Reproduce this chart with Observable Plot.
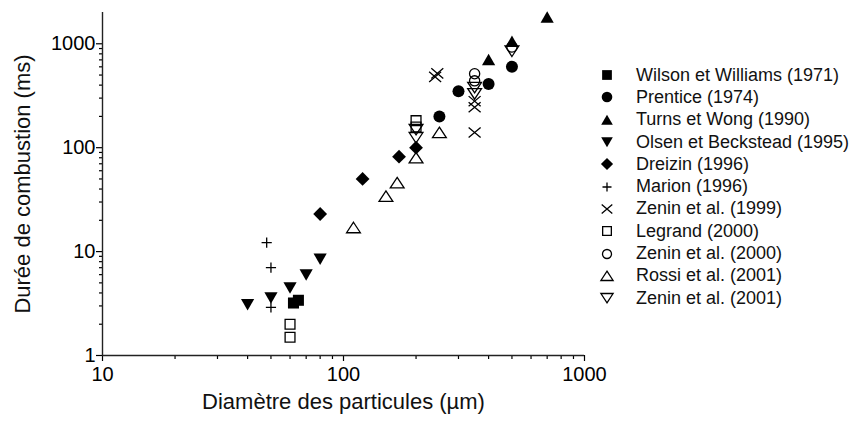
<!DOCTYPE html>
<html><head><meta charset="utf-8">
<script src="https://cdn.jsdelivr.net/npm/d3@7"></script>
<script src="https://cdn.jsdelivr.net/npm/@observablehq/plot@0.6"></script>
<style>
body{margin:0;background:#fff;font-family:"Liberation Sans",Arial,sans-serif;}
#wrap{position:relative;width:861px;height:421px;}
#legend{position:absolute;left:596px;top:64px;}
.row{height:22.3px;display:flex;align-items:center;font-size:18px;color:#111;white-space:nowrap;}
.row svg{width:22px;height:22px;margin-right:18px;flex:none;}
</style></head><body><div id="wrap"></div>
<script>
// ---- data ----
const seriesNames = [
  "Wilson et Williams (1971)", "Prentice (1974)", "Turns et Wong (1990)",
  "Olsen et Beckstead (1995)", "Dreizin (1996)", "Marion (1996)",
  "Zenin et al. (1999)", "Legrand (2000)", "Zenin et al. (2000)",
  "Rossi et al. (2001)", "Zenin et al. (2001)"
];
const wilson    = [[62, 3.2], [65, 3.4]];
const prentice  = [[250, 200], [300, 350], [400, 410], [500, 600]];
const turns     = [[400, 700], [500, 1050], [700, 1800]];
const olsen     = [[40, 3.1], [50, 3.6], [60, 4.5], [70, 6.0], [80, 8.5]];
const dreizin   = [[80, 23], [120, 50], [170, 82], [200, 100]];
const marion    = [[48, 12.2], [50, 7.0], [50, 2.9]];
const zenin1999 = [[240, 480], [245, 520], [350, 280], [350, 245], [350, 140]];
const legrand   = [[60, 2.0], [60, 1.5], [200, 182], [200, 158]];
const zenin2000 = [[350, 515], [350, 440], [500, 930]];
const rossi     = [[110, 17], [150, 34], [167, 46], [200, 80], [250, 140]];
const zenin2001 = [[200, 150], [200, 125], [350, 380], [350, 330], [500, 850]];

const xMajorTicks = [10, 100, 1000];
const xMinorTicks = [20, 30, 40, 50, 60, 70, 80, 90, 200, 300, 400, 500, 600, 700, 800, 900];
const yMajorTicks = [1, 10, 100, 1000];
const yMinorTicks = [2, 3, 4, 5, 6, 7, 8, 9, 20, 30, 40, 50, 60, 70, 80, 90, 200, 300, 400, 500, 600, 700, 800, 900];

const xLabel = "Diamètre des particules (µm)";
const yLabel = "Durée de combustion (ms)";

// ---- symbols ----
const sym = f => ({draw(c, size) { const r = Math.sqrt(size / Math.PI); f(c, r); }});
const SQUARE = sym((c, r) => { const h = r * 0.92; c.rect(-h, -h, 2 * h, 2 * h); });
const CIRCLE = sym((c, r) => { c.moveTo(r, 0); c.arc(0, 0, r, 0, 2 * Math.PI); c.closePath(); });
const TRI_UP = sym((c, r) => { c.moveTo(0, -r * 1.0); c.lineTo(r * 1.1, r * 0.9); c.lineTo(-r * 1.1, r * 0.9); c.closePath(); });
const TRI_DOWN = sym((c, r) => { c.moveTo(0, r * 1.0); c.lineTo(r * 1.1, -r * 0.9); c.lineTo(-r * 1.1, -r * 0.9); c.closePath(); });
const DIAMOND = sym((c, r) => { const a = r * 1.15; c.moveTo(0, -a); c.lineTo(a, 0); c.lineTo(0, a); c.lineTo(-a, 0); c.closePath(); });
const PLUS = sym((c, r) => { const a = r * 0.85; c.moveTo(-a, 0); c.lineTo(a, 0); c.moveTo(0, -a); c.lineTo(0, a); });
const TIMES = sym((c, r) => { const a = r * 1.0; c.moveTo(-a, -a * 0.85); c.lineTo(a, a * 0.85); c.moveTo(-a, a * 0.85); c.lineTo(a, -a * 0.85); });
const O_SQUARE = sym((c, r) => { const h = r * 0.82; c.rect(-h, -h, 2 * h, 2 * h); });
const O_CIRCLE = sym((c, r) => { const a = r * 0.85; c.moveTo(a, 0); c.arc(0, 0, a, 0, 2 * Math.PI); c.closePath(); });
const O_TRI_UP = sym((c, r) => { c.moveTo(0, -r * 0.9); c.lineTo(r * 1.15, r * 0.85); c.lineTo(-r * 1.15, r * 0.85); c.closePath(); });
const O_TRI_DOWN = sym((c, r) => { c.moveTo(0, r * 0.9); c.lineTo(r * 1.15, -r * 0.85); c.lineTo(-r * 1.15, -r * 0.85); c.closePath(); });

const configs = [
  {data: wilson, symbol: SQUARE, mode: "fill"},
  {data: prentice, symbol: CIRCLE, mode: "fill"},
  {data: turns, symbol: TRI_UP, mode: "fill"},
  {data: olsen, symbol: TRI_DOWN, mode: "fill"},
  {data: dreizin, symbol: DIAMOND, mode: "fill"},
  {data: marion, symbol: PLUS, mode: "line"},
  {data: zenin1999, symbol: TIMES, mode: "line"},
  {data: legrand, symbol: O_SQUARE, mode: "line"},
  {data: zenin2000, symbol: O_CIRCLE, mode: "line"},
  {data: rossi, symbol: O_TRI_UP, mode: "line"},
  {data: zenin2001, symbol: O_TRI_DOWN, mode: "line"}
].map((c, i) => ({...c, name: seriesNames[i]}));

const dotMarks = configs.map(c => Plot.dot(c.data, {
  x: d => d[0], y: d => d[1], symbol: c.symbol, r: 6,
  fill: c.mode === "fill" ? "black" : "none",
  stroke: c.mode === "fill" ? "none" : "black",
  strokeWidth: 1.3
}));

const chart = Plot.plot({
  width: 861, height: 421,
  marginLeft: 102, marginRight: 277, marginTop: 12, marginBottom: 66,
  x: {type: "log", domain: [10, 1000]},
  y: {type: "log", domain: [1, 2000]},
  style: {fontFamily: '"Liberation Sans", Arial, sans-serif', background: "white", color: "black", overflow: "visible"},
  marks: [
    Plot.axisX(xMinorTicks, {tickSize: 4, tickFormat: () => "", strokeWidth: 1.2, label: null}),
    Plot.axisX(xMajorTicks, {tickSize: 6, tickPadding: 5, tickFormat: d => String(d), fontSize: 20, strokeWidth: 1.2, label: null}),
    Plot.axisY(yMinorTicks, {tickSize: 3, tickFormat: () => "", strokeWidth: 1.2, label: null}),
    Plot.axisY(yMajorTicks, {tickSize: 6, tickPadding: 1, tickFormat: d => String(d), fontSize: 20, strokeWidth: 1.2, label: null}),
    Plot.ruleX([10], {strokeWidth: 1.4, stroke: "#222"}),
    Plot.ruleY([1], {strokeWidth: 1.4, stroke: "#222"}),
    Plot.text([xLabel], {frameAnchor: "bottom", text: d => d, lineAnchor: "top", textAnchor: "middle", dy: 38, fontSize: 22, fill: "#111"}),
    Plot.text([yLabel], {frameAnchor: "left", text: d => d, rotate: -90, lineAnchor: "middle", textAnchor: "middle", dx: -80, fontSize: 22, fill: "#111"}),
    ...dotMarks
  ]
});

const wrap = document.getElementById("wrap");
wrap.appendChild(chart);

// ---- legend ----
const legend = document.createElement("div");
legend.id = "legend";
configs.forEach(c => {
  const row = document.createElement("div");
  row.className = "row";
  const p = d3.path();
  c.symbol.draw(p, Math.PI * 5.3 * 5.3);
  const fill = c.mode === "fill" ? "black" : "none";
  const stroke = c.mode === "fill" ? "none" : "black";
  row.innerHTML = `<svg viewBox="-11 -11 22 22"><path d="${p.toString()}" fill="${fill}" stroke="${stroke}" stroke-width="1.3"/></svg><span>${c.name}</span>`;
  legend.appendChild(row);
});
wrap.appendChild(legend);
</script>
</body></html>
